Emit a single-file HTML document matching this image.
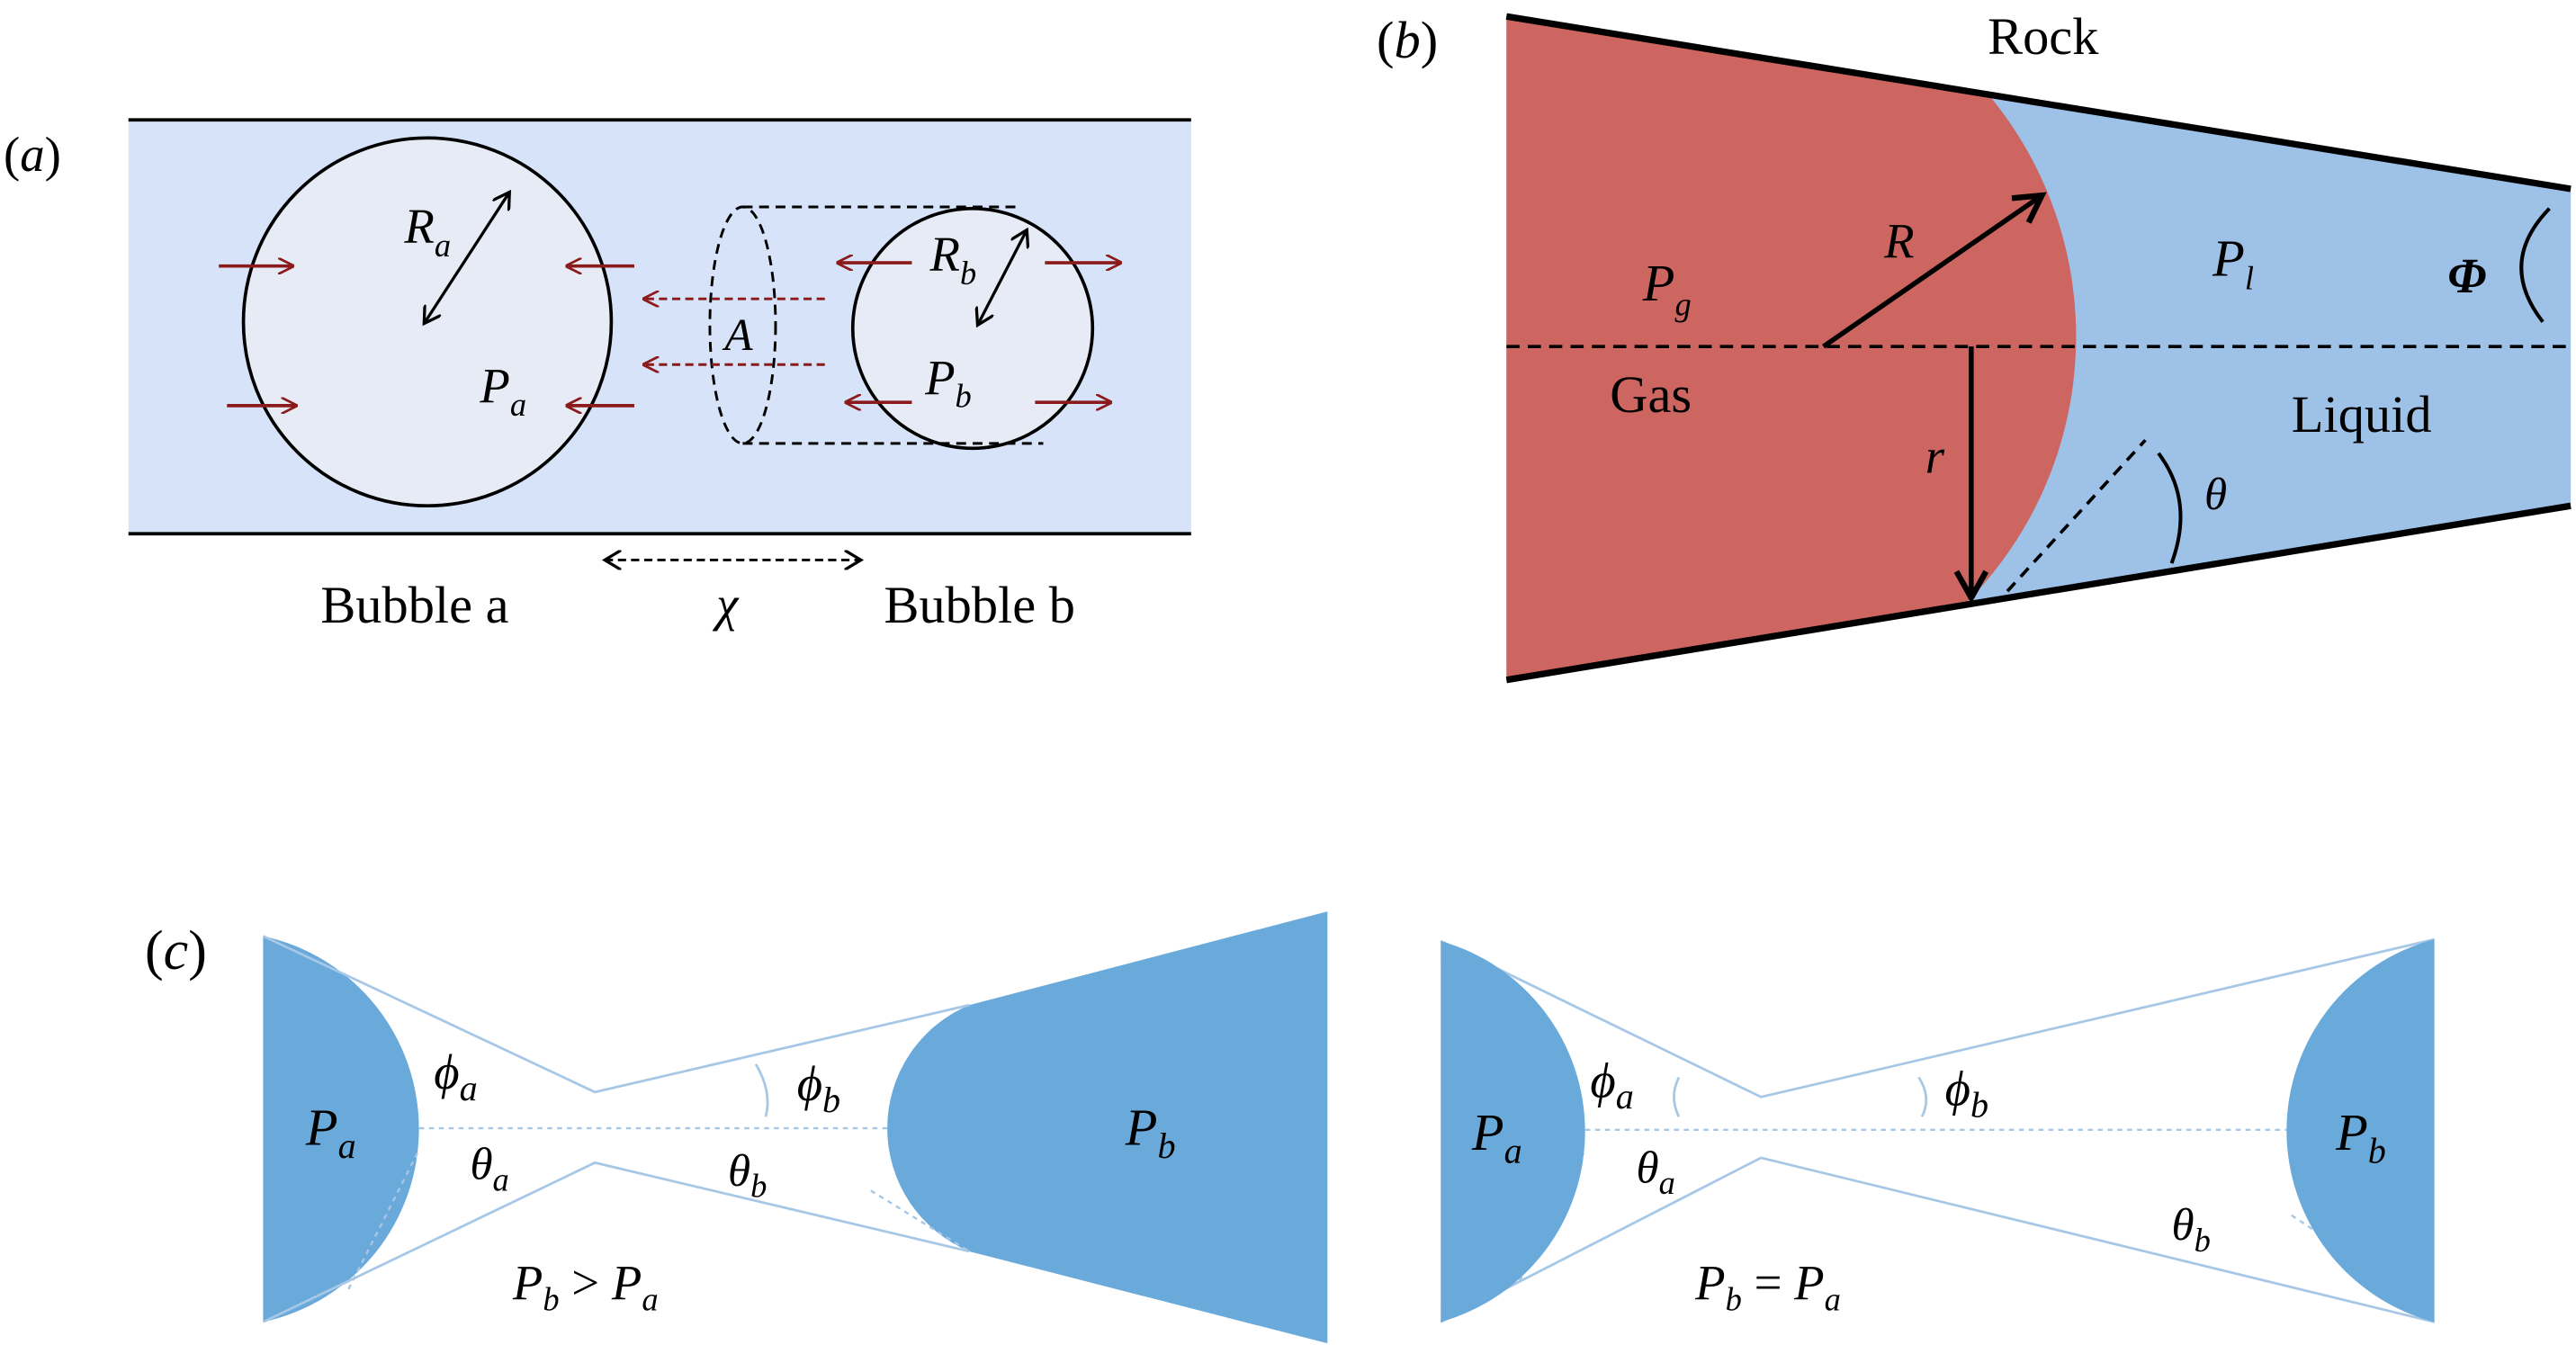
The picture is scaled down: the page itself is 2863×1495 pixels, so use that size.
<!DOCTYPE html>
<html><head><meta charset="utf-8"><style>
html,body{margin:0;padding:0;background:#fff}
svg{display:block}
text{font-family:"Liberation Serif",serif;fill:#000}
.i{font-style:italic}
</style></head><body>
<svg width="2863" height="1495" viewBox="0 0 1568 819" xmlns="http://www.w3.org/2000/svg">
<defs>
<marker id="ar" markerWidth="10" markerHeight="10" refX="9" refY="5" orient="auto" markerUnits="userSpaceOnUse"><path d="M0,0 L10,5 L0,10" fill="none" stroke="#8b1a1a" stroke-width="1.5"/></marker>
<marker id="ak" markerWidth="12" markerHeight="12" refX="10" refY="6" orient="auto-start-reverse" markerUnits="userSpaceOnUse"><path d="M0,0 L10,6 L0,12" fill="none" stroke="#000" stroke-width="1.8"/></marker>
<marker id="akb" markerWidth="22" markerHeight="22" refX="18" refY="11" orient="auto" markerUnits="userSpaceOnUse"><path d="M2,2 L18,11 L2,20" fill="none" stroke="#000" stroke-width="3.5"/></marker>
</defs>
<!-- Panel a -->
<rect x="78" y="73" width="647" height="252" fill="#d7e3f8"/>
<line x1="78" y1="73" x2="725" y2="73" stroke="#000" stroke-width="2"/>
<line x1="78" y1="325" x2="725" y2="325" stroke="#000" stroke-width="2"/>
<circle cx="260" cy="196" r="112" fill="#e6ebf5" stroke="#000" stroke-width="2"/>
<circle cx="592" cy="200" r="73" fill="#e6ebf5" stroke="#000" stroke-width="2"/>
<ellipse cx="452" cy="198" rx="20" ry="72" fill="none" stroke="#000" stroke-width="1.6" stroke-dasharray="6,4"/>
<line x1="452" y1="126" x2="620" y2="126" stroke="#000" stroke-width="1.6" stroke-dasharray="6,4"/>
<line x1="452" y1="270" x2="635" y2="270" stroke="#000" stroke-width="1.6" stroke-dasharray="6,4"/>
<g stroke="#8b1a1a" stroke-width="2" marker-end="url(#ar)">
<line x1="133" y1="162" x2="178" y2="162"/>
<line x1="138" y1="247" x2="180" y2="247"/>
<line x1="386" y1="162" x2="345" y2="162"/>
<line x1="386" y1="247" x2="345" y2="247"/>
<line x1="555" y1="160" x2="510" y2="160"/>
<line x1="555" y1="245" x2="515" y2="245"/>
<line x1="636" y1="160" x2="682" y2="160"/>
<line x1="630" y1="245" x2="676" y2="245"/>
</g>
<g stroke="#8b1a1a" stroke-width="1.6" stroke-dasharray="5,3" marker-end="url(#ar)">
<line x1="502" y1="182" x2="392" y2="182"/>
<line x1="502" y1="222" x2="392" y2="222"/>
</g>
<line x1="258" y1="197" x2="310" y2="117" stroke="#000" stroke-width="1.8" marker-start="url(#ak)" marker-end="url(#ak)"/>
<line x1="595" y1="198" x2="625" y2="140" stroke="#000" stroke-width="1.8" marker-start="url(#ak)" marker-end="url(#ak)"/>
<line x1="368" y1="341" x2="524" y2="341" stroke="#000" stroke-width="1.6" stroke-dasharray="5,3" marker-start="url(#ak)" marker-end="url(#ak)"/>
<text x="2" y="104" font-size="30">(<tspan class="i">a</tspan>)</text>
<text x="246" y="148" font-size="30" class="i">R<tspan font-size="20" dy="8">a</tspan></text>
<text x="292" y="245" font-size="30" class="i">P<tspan font-size="20" dy="8">a</tspan></text>
<text x="566" y="165" font-size="30" class="i">R<tspan font-size="20" dy="8">b</tspan></text>
<text x="563" y="240" font-size="30" class="i">P<tspan font-size="20" dy="8">b</tspan></text>
<text x="441" y="213" font-size="28" class="i">A</text>
<text x="195" y="379" font-size="32">Bubble a</text>
<text x="436" y="378" font-size="30" class="i">χ</text>
<text x="538" y="379" font-size="32">Bubble b</text>
<!-- Panel b -->
<polygon points="917,10 1565,115 1565,308 917,414" fill="#9ec1e8"/>
<path d="M917,10 L1210,57 A230,230 0 0 1 1198,366 L917,414 Z" fill="#cd6660"/>
<line x1="917" y1="10" x2="1565" y2="115" stroke="#000" stroke-width="4"/>
<line x1="917" y1="414" x2="1565" y2="308" stroke="#000" stroke-width="4"/>
<line x1="917" y1="211" x2="1565" y2="211" stroke="#000" stroke-width="2" stroke-dasharray="8,5"/>
<line x1="1110" y1="211" x2="1243" y2="119" stroke="#000" stroke-width="3" marker-end="url(#akb)"/>
<line x1="1200" y1="211" x2="1200" y2="364" stroke="#000" stroke-width="3" marker-end="url(#akb)"/>
<line x1="1222" y1="360" x2="1306" y2="268" stroke="#000" stroke-width="2" stroke-dasharray="7,5"/>
<path d="M1314,276 Q1336,305 1322,343" fill="none" stroke="#000" stroke-width="2.2"/>
<path d="M1552,127 Q1520,160 1548,196" fill="none" stroke="#000" stroke-width="2.2"/>
<text x="838" y="35" font-size="32">(<tspan class="i">b</tspan>)</text>
<text x="1210" y="33" font-size="32">Rock</text>
<text x="1000" y="183" font-size="32" class="i">P<tspan font-size="20" dy="9">g</tspan></text>
<text x="980" y="251" font-size="32">Gas</text>
<text x="1147" y="157" font-size="30" class="i">R</text>
<text x="1172" y="288" font-size="30" class="i">r</text>
<text x="1347" y="168" font-size="32" class="i">P<tspan font-size="20" dy="8">l</tspan></text>
<text x="1395" y="263" font-size="32">Liquid</text>
<text x="1342" y="310" font-size="28" class="i">θ</text>
<text x="1490" y="178" font-size="30" class="i" font-weight="bold">Φ</text>
<!-- Panel c left -->
<text x="88" y="590" font-size="34">(<tspan class="i">c</tspan>)</text>
<path d="M160,570 A120.2,120.2 0 0 1 160,805 Z" fill="#6aaadb"/>
<path d="M808,555 L590,612 A81.25,81.25 0 0 0 590,762 L808,818 Z" fill="#6aaadb"/>
<g stroke="#a6c7e6" stroke-width="1.5" fill="none">
<polyline points="160,570 362,665 590,612"/>
<polyline points="160,805 362,708 590,762"/>
<polyline points="877,573 1072,668 1482,572"/>
<polyline points="877,805 1072,705 1482,805"/>
</g>
<g stroke="#a6c7e6" stroke-width="1.3" stroke-dasharray="3,3" fill="none">
<line x1="255" y1="687" x2="540" y2="687"/>
<line x1="212" y1="785" x2="255" y2="700"/>
<line x1="530" y1="725" x2="590" y2="762"/>
<line x1="965" y1="688" x2="1392" y2="688"/>
<line x1="925" y1="780" x2="965" y2="700"/>
<line x1="1395" y1="740" x2="1470" y2="790"/>
</g>
<path d="M460,648 Q470,665 466,680" fill="none" stroke="#a6c7e6" stroke-width="1.5"/>
<path d="M1022,656 Q1016,668 1022,680" fill="none" stroke="#a6c7e6" stroke-width="1.5"/>
<path d="M1168,656 Q1176,668 1170,680" fill="none" stroke="#a6c7e6" stroke-width="1.5"/>
<text x="186" y="697" font-size="32" class="i">P<tspan font-size="22" dy="8">a</tspan></text>
<text x="685" y="697" font-size="32" class="i">P<tspan font-size="22" dy="8">b</tspan></text>
<text x="264" y="663" font-size="30" class="i">ϕ<tspan font-size="22" dy="7">a</tspan></text>
<text x="485" y="670" font-size="30" class="i">ϕ<tspan font-size="22" dy="7">b</tspan></text>
<text x="286" y="718" font-size="28" class="i">θ<tspan font-size="20" dy="7">a</tspan></text>
<text x="443" y="722" font-size="28" class="i">θ<tspan font-size="20" dy="7">b</tspan></text>
<text x="312" y="791" font-size="30" class="i">P<tspan font-size="20" dy="7">b</tspan><tspan dy="-7" font-style="normal"> &gt; </tspan>P<tspan font-size="20" dy="7">a</tspan></text>
<!-- Panel c right -->
<path d="M877,573 A120.5,120.5 0 0 1 877,805 Z" fill="#6aaadb"/>
<path d="M1482,572 A120.4,120.4 0 0 0 1482,805 Z" fill="#6aaadb"/>
<text x="896" y="700" font-size="32" class="i">P<tspan font-size="22" dy="8">a</tspan></text>
<text x="1422" y="700" font-size="32" class="i">P<tspan font-size="22" dy="8">b</tspan></text>
<text x="968" y="668" font-size="30" class="i">ϕ<tspan font-size="22" dy="7">a</tspan></text>
<text x="1184" y="673" font-size="30" class="i">ϕ<tspan font-size="22" dy="7">b</tspan></text>
<text x="996" y="720" font-size="28" class="i">θ<tspan font-size="20" dy="7">a</tspan></text>
<text x="1322" y="755" font-size="28" class="i">θ<tspan font-size="20" dy="7">b</tspan></text>
<text x="1032" y="791" font-size="30" class="i">P<tspan font-size="20" dy="7">b</tspan><tspan dy="-7" font-style="normal"> = </tspan>P<tspan font-size="20" dy="7">a</tspan></text>
</svg>
</body></html>
